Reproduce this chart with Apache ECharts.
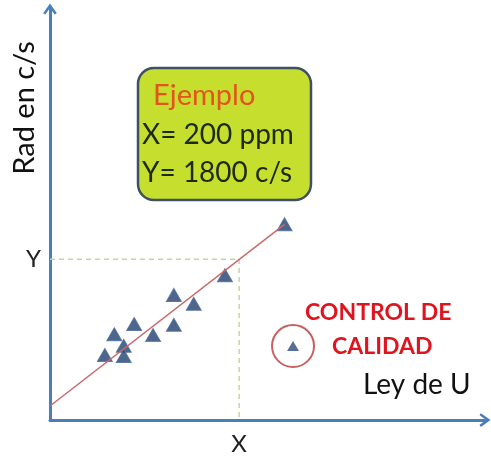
<!DOCTYPE html>
<html>
<head>
<meta charset="utf-8">
<script src="https://cdn.jsdelivr.net/npm/echarts@6/dist/echarts.min.js"></script>
<style>
  html, body { margin: 0; padding: 0; background: #fff; }
  #chart { width: 491px; height: 457px; }
</style>
</head>
<body>
<div id="chart"></div>
<script>
// muestras de calibracion (ppm, c/s)
const muestras = [
  [248, 2190], [185, 1620], [131, 1400], [152, 1300], [131, 1065],
  [109, 950], [89, 1075], [68, 960], [78, 830], [58, 727], [78, 716]
];
// control de calidad
const control = [[257, 828]];
// recta de calibracion
const recta = [[0, 157], [248, 2190]];
// lectura del ejemplo
const ejemploX = 200;
const ejemploY = 1800;
const guia = [[0, ejemploY], [ejemploX, ejemploY], [ejemploX, 0]];

const azul = '#4a7ebb';
const flecha = 'path://M5,0 L10,7 L8.4,8 L5,3.2 L1.6,8 L0,7 Z';

function texto(x, y, txt, size, color, weight) {
  return {
    type: 'text', x: x, y: y,
    style: {
      text: txt, fontFamily: 'Lato', fontSize: size, fill: color,
      fontWeight: weight || 'normal', textVerticalAlign: 'middle'
    }
  };
}

const chart = echarts.init(document.getElementById('chart'));
chart.setOption({
  animation: false,
  grid: { left: 50, right: 6, top: 9, bottom: 37 },
  xAxis: {
    type: 'value', min: 0, max: 460,
    splitLine: { show: false },
    axisTick: { show: false },
    axisLine: {
      onZero: false,
      symbol: ['none', flecha], symbolSize: [17, 11],
      lineStyle: { color: azul, width: 3 }
    },
    axisLabel: {
      customValues: [ejemploX],
      formatter: () => 'X',
      margin: 12,
      fontFamily: 'Lato', fontSize: 24, color: '#222'
    }
  },
  yAxis: {
    type: 'value', min: 0, max: 4600,
    splitLine: { show: false },
    axisTick: { show: false },
    axisLine: {
      onZero: false,
      symbol: ['none', flecha], symbolSize: [17, 11],
      lineStyle: { color: azul, width: 3 }
    },
    axisLabel: {
      customValues: [ejemploY],
      formatter: () => 'Y',
      margin: 9,
      fontFamily: 'Lato', fontSize: 24, color: '#222'
    }
  },
  graphic: [
    {
      type: 'text', x: 25, y: 108, rotation: Math.PI / 2,
      style: { text: 'Rad en c/s', fontFamily: 'Lato', fontSize: 29, fill: '#111', textAlign: 'center', textVerticalAlign: 'middle' }
    },
    {
      type: 'rect', shape: { x: 138, y: 68, width: 173, height: 132, r: 16 },
      style: { fill: '#c6df2e', stroke: '#3d5163', lineWidth: 2.5 }
    },
    texto(153, 96, 'Ejemplo', 29, '#e2561c'),
    texto(142, 135, 'X= 200 ppm', 28, '#1d2a10'),
    texto(142, 173, 'Y= 1800 c/s', 28, '#1d2a10'),
    texto(305, 313, 'CONTROL DE', 23, '#e0141e', 'bold'),
    texto(332, 347, 'CALIDAD', 23, '#e0141e', 'bold'),
    texto(363, 385, 'Ley de U', 28, '#111')
  ],
  series: [
    {
      type: 'line', data: guia, symbol: 'none', silent: true,
      lineStyle: { color: '#c3d69b', width: 1.5, type: [5, 4] }
    },
    {
      type: 'line', data: recta, symbol: 'none', silent: true,
      lineStyle: { color: '#c96a6a', width: 1.5 }
    },
    {
      type: 'scatter', data: muestras, symbol: 'triangle', symbolSize: [15, 13],
      itemStyle: { color: '#23406f', borderColor: '#4b6b9b', borderWidth: 1 }
    },
    {
      type: 'scatter', data: control, symbol: 'triangle', symbolSize: [12, 10],
      itemStyle: { color: '#2c4b7c' }
    },
    {
      type: 'scatter', data: control, symbol: 'circle', symbolSize: 42,
      itemStyle: { color: 'rgba(0,0,0,0)', borderColor: '#b8393a', borderWidth: 2 }
    }
  ]
});
</script>
</body>
</html>
